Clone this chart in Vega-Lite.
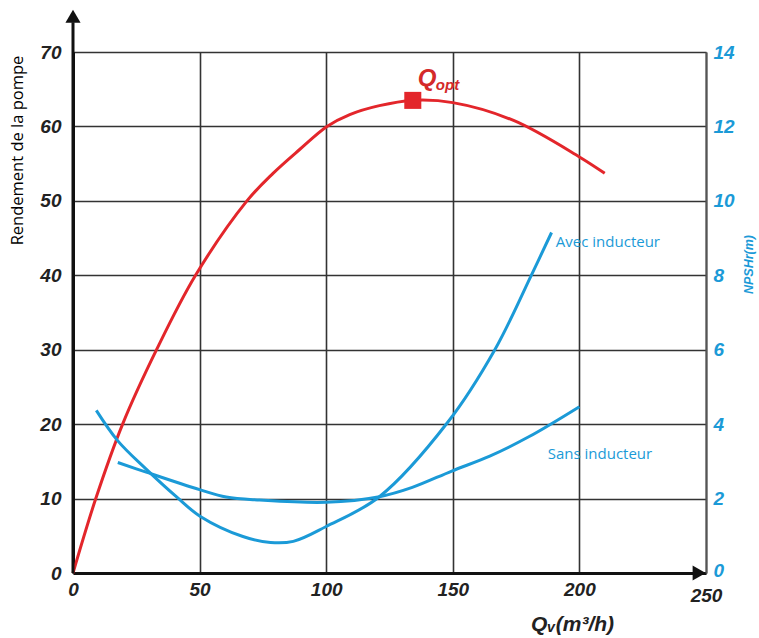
{
  "$schema": "https://vega.github.io/schema/vega-lite/v6.json",
  "width": 633,
  "height": 521,
  "autosize": "none",
  "padding": {"left": 73, "top": 52, "right": 53, "bottom": 65},
  "background": "white",
  "config": {"view": {"stroke": null}},
  "datasets": {
    "rendement": [
      {"Q": 0, "eta": 0}, {"Q": 9, "eta": 10}, {"Q": 19.6, "eta": 20}, {"Q": 33, "eta": 30},
      {"Q": 48.4, "eta": 40}, {"Q": 68.7, "eta": 50}, {"Q": 79, "eta": 53.7},
      {"Q": 89.5, "eta": 56.9}, {"Q": 100.3, "eta": 60}, {"Q": 109.3, "eta": 61.6}, {"Q": 121, "eta": 62.8},
      {"Q": 134, "eta": 63.5}, {"Q": 150, "eta": 63.2},
      {"Q": 174, "eta": 60.8}, {"Q": 200, "eta": 55.9}, {"Q": 210, "eta": 53.7}
    ],
    "npsh": [
      {"serie": "Avec inducteur", "Q": 9.2, "npsh": 4.37},
      {"serie": "Avec inducteur", "Q": 17.7, "npsh": 3.55},
      {"serie": "Avec inducteur", "Q": 28.9, "npsh": 2.79},
      {"serie": "Avec inducteur", "Q": 40.8, "npsh": 2.05},
      {"serie": "Avec inducteur", "Q": 50.3, "npsh": 1.52},
      {"serie": "Avec inducteur", "Q": 67.1, "npsh": 0.98},
      {"serie": "Avec inducteur", "Q": 78, "npsh": 0.82},
      {"serie": "Avec inducteur", "Q": 87, "npsh": 0.85},
      {"serie": "Avec inducteur", "Q": 100, "npsh": 1.25},
      {"serie": "Avec inducteur", "Q": 121, "npsh": 2.05},
      {"serie": "Avec inducteur", "Q": 148, "npsh": 4.05},
      {"serie": "Avec inducteur", "Q": 166.6, "npsh": 6.0},
      {"serie": "Avec inducteur", "Q": 181, "npsh": 8.0},
      {"serie": "Avec inducteur", "Q": 189, "npsh": 9.15},
      {"serie": "Sans inducteur", "Q": 17.7, "npsh": 2.97},
      {"serie": "Sans inducteur", "Q": 28.9, "npsh": 2.71},
      {"serie": "Sans inducteur", "Q": 50, "npsh": 2.24},
      {"serie": "Sans inducteur", "Q": 60.5, "npsh": 2.04},
      {"serie": "Sans inducteur", "Q": 73.7, "npsh": 1.96},
      {"serie": "Sans inducteur", "Q": 100, "npsh": 1.9},
      {"serie": "Sans inducteur", "Q": 121, "npsh": 2.05},
      {"serie": "Sans inducteur", "Q": 134, "npsh": 2.3},
      {"serie": "Sans inducteur", "Q": 149.6, "npsh": 2.74},
      {"serie": "Sans inducteur", "Q": 164.6, "npsh": 3.14},
      {"serie": "Sans inducteur", "Q": 180, "npsh": 3.66},
      {"serie": "Sans inducteur", "Q": 200, "npsh": 4.47}
    ],
    "labels": [
      {"label": "Avec inducteur", "Q": 190.7, "npsh": 8.9},
      {"label": "Sans inducteur", "Q": 187.5, "npsh": 3.21}
    ],
    "qopt": [{"Q": 134.2, "eta": 63.5}],
    "qlabel": [{"Q": 136.2, "eta": 65.4, "t": "Q"}],
    "qsub": [{"Q": 143.3, "eta": 64.95, "t": "opt"}],
    "yarrow": [{"Q": 0, "y0": 0, "y1": 74}],
    "yhead": [{"Q": 0, "eta": 74.8}],
    "xhead": [{"Q": 247.3, "eta": 0}]
  },
  "layer": [
    {
      "layer": [
        {
          "data": {"name": "rendement"},
          "mark": {"type": "line", "color": "#e3262b", "strokeWidth": 3, "interpolate": "catmull-rom"},
          "encoding": {
            "x": {
              "field": "Q", "type": "quantitative",
              "scale": {"domain": [0, 250], "nice": false},
              "axis": {
                "values": [0, 50, 100, 150, 200, 250],
                "grid": true, "gridColor": "#333333", "gridWidth": 1.6,
                "domainColor": "#111111", "domainWidth": 3,
                "ticks": false,
                "labelFont": "Liberation Sans", "labelFontSize": 19, "labelFontWeight": "bold",
                "labelFontStyle": "italic", "labelColor": "#222222",
                "labelPadding": {"condition": {"test": "datum.value == 250", "value": 13}, "value": 7},
                "labelFlush": false,
                "title": "Qᵥ(m³/h)",
                "titleFont": "Liberation Sans, DejaVu Sans", "titleFontSize": 21, "titleFontWeight": "bold",
                "titleFontStyle": "italic", "titleColor": "#222222",
                "titleX": 499, "titleY": 57, "titleAlign": "center", "titleBaseline": "alphabetic"
              }
            },
            "y": {
              "field": "eta", "type": "quantitative",
              "scale": {"domain": [0, 70], "nice": false},
              "axis": {
                "orient": "left",
                "values": [0, 10, 20, 30, 40, 50, 60, 70],
                "grid": true, "gridColor": "#333333", "gridWidth": 1.6,
                "domainColor": "#111111", "domainWidth": 3,
                "ticks": false,
                "labelFont": "Liberation Sans", "labelFontSize": 19, "labelFontWeight": "bold",
                "labelFontStyle": "italic", "labelColor": "#222222", "labelPadding": 12,
                "labelFlush": false,
                "title": "Rendement de la pompe",
                "titleFont": "Open Sans", "titleFontSize": 16.5, "titleFontWeight": "normal",
                "titleColor": "#000000",
                "titleAngle": 270, "titleX": -56, "titleY": 98,
                "titleAlign": "center", "titleBaseline": "middle"
              }
            }
          }
        },
        {
          "data": {"name": "yarrow"},
          "mark": {"type": "rule", "color": "#111111", "strokeWidth": 3},
          "encoding": {
            "x": {"field": "Q", "type": "quantitative"},
            "y": {"field": "y0", "type": "quantitative"},
            "y2": {"field": "y1"}
          }
        },
        {
          "data": {"name": "yhead"},
          "mark": {"type": "point", "shape": "triangle-up", "filled": true, "color": "#111111", "size": 230, "opacity": 1},
          "encoding": {
            "x": {"field": "Q", "type": "quantitative"},
            "y": {"field": "eta", "type": "quantitative"}
          }
        },
        {
          "data": {"name": "xhead"},
          "mark": {"type": "point", "shape": "triangle-right", "filled": true, "color": "#111111", "size": 230, "opacity": 1},
          "encoding": {
            "x": {"field": "Q", "type": "quantitative"},
            "y": {"field": "eta", "type": "quantitative"}
          }
        },
        {
          "data": {"name": "qopt"},
          "mark": {"type": "square", "color": "#e3262b", "size": 290, "opacity": 1},
          "encoding": {
            "x": {"field": "Q", "type": "quantitative"},
            "y": {"field": "eta", "type": "quantitative"}
          }
        },
        {
          "data": {"name": "qlabel"},
          "mark": {"type": "text", "color": "#d42a2a", "font": "Liberation Sans", "fontSize": 24, "fontWeight": "bold", "fontStyle": "italic", "align": "left", "baseline": "alphabetic"},
          "encoding": {
            "x": {"field": "Q", "type": "quantitative"},
            "y": {"field": "eta", "type": "quantitative"},
            "text": {"field": "t"}
          }
        },
        {
          "data": {"name": "qsub"},
          "mark": {"type": "text", "color": "#d42a2a", "font": "Liberation Sans", "fontSize": 15, "fontWeight": "bold", "fontStyle": "italic", "align": "left", "baseline": "alphabetic"},
          "encoding": {
            "x": {"field": "Q", "type": "quantitative"},
            "y": {"field": "eta", "type": "quantitative"},
            "text": {"field": "t"}
          }
        }
      ]
    },
    {
      "layer": [
        {
          "data": {"name": "npsh"},
          "mark": {"type": "line", "color": "#1b9ad7", "strokeWidth": 3, "interpolate": "catmull-rom"},
          "encoding": {
            "x": {"field": "Q", "type": "quantitative"},
            "y": {
              "field": "npsh", "type": "quantitative",
              "scale": {"domain": [0, 14], "nice": false},
              "axis": {
                "orient": "right",
                "values": [0, 2, 4, 6, 8, 10, 12, 14],
                "grid": false,
                "domainColor": "#555555", "domainWidth": 2,
                "ticks": false,
                "labelFont": "Liberation Sans", "labelFontSize": 19, "labelFontWeight": "bold",
                "labelFontStyle": "italic", "labelColor": "#1b9ad7", "labelPadding": 7,
                "labelFlush": false,
                "labelOffset": {"condition": {"test": "datum.value == 0", "value": -3}, "value": 0},
                "title": "NPSHr(m)",
                "titleFont": "Liberation Sans", "titleFontSize": 12.5, "titleFontWeight": "bold",
                "titleFontStyle": "italic", "titleColor": "#1b9ad7",
                "titleAngle": 270, "titleX": 42, "titleY": 212,
                "titleAlign": "center", "titleBaseline": "middle"
              }
            },
            "detail": {"field": "serie"}
          }
        },
        {
          "data": {"name": "labels"},
          "mark": {"type": "text", "color": "#1b9ad7", "font": "Open Sans", "fontSize": 15, "align": "left", "baseline": "middle"},
          "encoding": {
            "x": {"field": "Q", "type": "quantitative"},
            "y": {"field": "npsh", "type": "quantitative"},
            "text": {"field": "label"}
          }
        }
      ]
    }
  ],
  "resolve": {"scale": {"y": "independent"}}
}
